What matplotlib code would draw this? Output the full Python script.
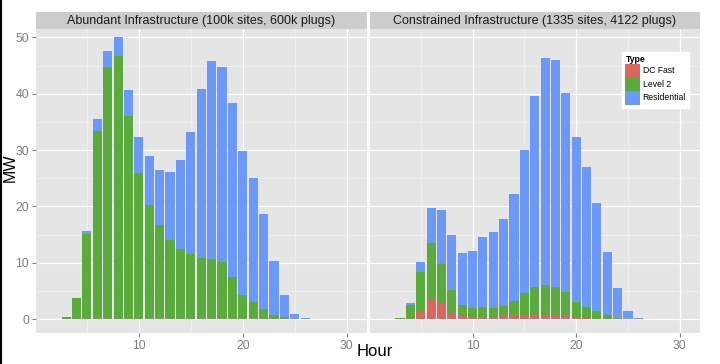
import matplotlib.pyplot as plt
from matplotlib.lines import Line2D
from matplotlib.patches import Patch
from matplotlib.ticker import MultipleLocator
import numpy as np

plt.rcParams['font.family'] = ['Liberation Sans', 'DejaVu Sans']

# --- Data ---
hours = list(range(3, 28))
types = ['DC Fast', 'Level 2', 'Residential']
panel_titles = ['Abundant Infrastructure (100k sites, 600k plugs)',
                'Constrained Infrastructure (1335 sites, 4122 plugs)']

# Abundant infrastructure (MW by hour)
ab_dcfast = [0, 0, 0, 0, 0.1, 0.1, 0.1, 0.1, 0.1, 0, 0, 0, 0,
             0, 0, 0, 0, 0, 0, 0, 0, 0, 0, 0, 0]
ab_level2 = [0.35, 3.8, 15.2, 33.4, 44.7, 46.6, 36.0, 25.8, 20.1, 16.7, 14.0, 12.4, 11.5,
             10.9, 10.6, 10.2, 7.4, 4.3, 3.1, 1.8, 0.8, 0.35, 0.05, 0, 0]
ab_resid = [0, 0, 0.4, 2.1, 2.8, 3.3, 4.6, 6.4, 8.7, 9.7, 12.1, 15.9, 21.8,
            29.9, 35.3, 34.5, 31.0, 25.5, 22.0, 16.9, 9.6, 3.95, 0.9, 0.2, 0.05]

# Constrained infrastructure (MW by hour)
co_dcfast = [0, 0, 1.5, 3.6, 2.8, 1.0, 0.5, 0.35, 0.35, 0.35, 0.5, 0.6, 0.7,
             0.8, 0.8, 0.7, 0.8, 0.35, 0.2, 0.1, 0, 0, 0, 0, 0]
co_level2 = [0.3, 2.5, 6.8, 9.9, 7.0, 4.1, 2.0, 1.55, 1.75, 1.55, 1.9, 2.7, 4.0,
             5.0, 5.2, 5.0, 4.0, 2.65, 1.9, 1.4, 0.7, 0.3, 0, 0, 0]
co_resid = [0, 0.3, 1.9, 6.2, 9.5, 9.9, 9.3, 10.2, 12.4, 13.6, 15.4, 19.0, 25.3,
            33.8, 40.3, 40.3, 35.3, 29.3, 24.9, 19.2, 11.2, 5.3, 1.5, 0.24, 0.05]

panels = [(ab_dcfast, ab_level2, ab_resid), (co_dcfast, co_level2, co_resid)]

COLORS = ['#DA675F', '#5BAA3D', '#6C98F7']
BG = '#E5E5E5'
STRIP = '#CCCCCC'
TICK_GREY = '#7F7F7F'

W, H = 720, 364
fig = plt.figure(figsize=(W / 100, H / 100), dpi=100)
fig.patch.set_facecolor('white')

# panel boxes in pixels (left, right), top/bottom shared
px_lr = [(36, 367), (370, 700)]
top, bottom, strip_top = 29, 333, 12

axes = []
for i, ((l, r), (dc, l2, res)) in enumerate(zip(px_lr, panels)):
    ax = fig.add_axes([l / W, 1 - bottom / H, (r - l) / W, (bottom - top) / H])
    ax.set_facecolor(BG)
    x = np.array(hours)
    b0 = np.zeros(len(hours))
    for vals, c in zip((dc, l2, res), COLORS):
        ax.bar(x, vals, width=0.88, bottom=b0, color=c, linewidth=0, zorder=3)
        b0 = b0 + np.array(vals)

    ax.set_xlim(0.1, 31.95)
    ax.set_ylim(-2.45, 51.5)
    ax.xaxis.set_major_locator(MultipleLocator(10))
    ax.xaxis.set_minor_locator(MultipleLocator(5))
    ax.yaxis.set_major_locator(MultipleLocator(10))
    ax.yaxis.set_minor_locator(MultipleLocator(5))
    ax.set_xticks([10, 20, 30])
    ax.grid(which='major', color='white', linewidth=0.9, zorder=0)
    ax.grid(which='minor', color='#F2F2F2', linewidth=0.5, zorder=0)
    ax.set_axisbelow(True)
    for s in ax.spines.values():
        s.set_visible(False)
    ax.tick_params(which='major', length=3, color=TICK_GREY, labelcolor=TICK_GREY,
                   labelsize=8.8, pad=2)
    ax.tick_params(which='minor', length=0)
    if i == 1:
        ax.tick_params(axis='y', left=False, labelleft=False)
    axes.append(ax)

    # facet strip
    sax = fig.add_axes([l / W, 1 - top / H, (r - l) / W, (top - strip_top) / H])
    sax.set_facecolor(STRIP)
    sax.set_xticks([])
    sax.set_yticks([])
    for s in sax.spines.values():
        s.set_visible(False)
    sax.text(0.5, 0.45, panel_titles[i], ha='center', va='center',
             fontsize=9, color='#1A1A1A', transform=sax.transAxes)

# legend inside the right panel
handles = [Patch(facecolor=c, edgecolor='none', label=t) for c, t in zip(COLORS, types)]
leg = axes[1].legend(handles=handles, title='Type', loc='upper left',
                     bbox_to_anchor=(0.765, 0.925), fontsize=6.2,
                     title_fontproperties={'weight': 'bold', 'size': 6.2},
                     frameon=True, fancybox=False, framealpha=1, edgecolor='white',
                     handlelength=1.7, handleheight=2.05, handletextpad=0.3,
                     labelspacing=0.0, borderpad=0.35, borderaxespad=0)
leg._legend_box.align = 'left'

# axis titles
fig.text(375 / W, 1 - 351 / H, 'Hour', ha='center', va='center', fontsize=12)
fig.text(10 / W, 1 - 168 / H, 'MW', ha='center', va='center', fontsize=11.5, rotation=90)

# dark edge on the left of the screenshot
fig.add_artist(Line2D([0.001, 0.001], [0, 1], color='black', linewidth=1.5,
                      transform=fig.transFigure))

fig.savefig('out.png', dpi=100)
